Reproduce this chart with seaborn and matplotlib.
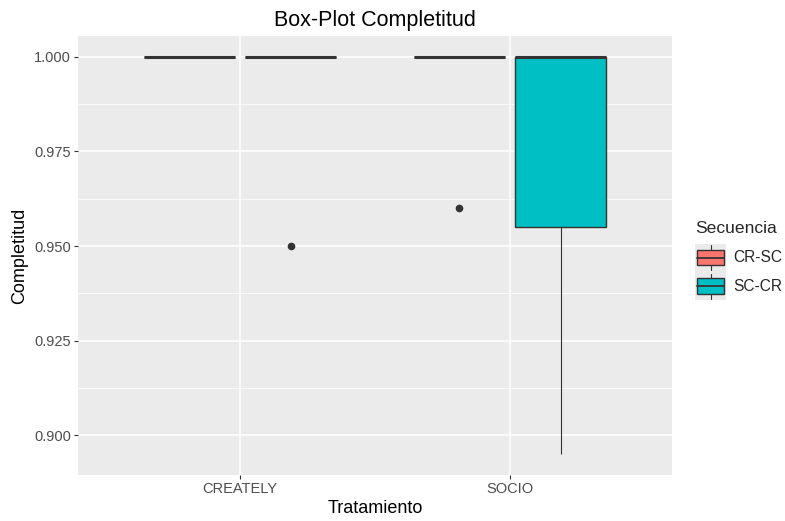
import matplotlib
matplotlib.use("Agg")
import matplotlib.pyplot as plt
import seaborn as sns
import pandas as pd
import numpy as np
from matplotlib.patches import Rectangle
from matplotlib.lines import Line2D
from matplotlib.legend_handler import HandlerBase
from matplotlib.ticker import MultipleLocator

# ---- data ----
tratamientos = ["CREATELY", "SOCIO"]
secuencias = ["CR-SC", "SC-CR"]
creately_crsc = [1.0, 1.0, 1.0, 1.0, 1.0]
creately_sccr = [1.0, 1.0, 0.95, 1.0, 1.0]
socio_crsc = [1.0, 1.0, 0.96, 1.0, 1.0]
socio_sccr = [0.895, 0.955, 1.0, 1.0, 1.0]
colores = ["#F8766D", "#00BFC4"]

rows = []
for trat, seq, vals in [("CREATELY", "CR-SC", creately_crsc),
                        ("CREATELY", "SC-CR", creately_sccr),
                        ("SOCIO", "CR-SC", socio_crsc),
                        ("SOCIO", "SC-CR", socio_sccr)]:
    for v in vals:
        rows.append({"Tratamiento": trat, "Secuencia": seq, "Completitud": v})
df = pd.DataFrame(rows)

sns.set_theme(style="darkgrid")
plt.rcParams["font.family"] = ["Liberation Sans", "DejaVu Sans"]

fig = plt.figure(figsize=(7.85, 5.21), dpi=100)
ax = fig.add_axes([78 / 785, 1 - 475 / 521, (672 - 78) / 785, (475 - 36) / 521])
ax.set_facecolor("#EBEBEB")

sns.boxplot(data=df, x="Tratamiento", y="Completitud", hue="Secuencia",
            order=tratamientos, hue_order=secuencias, palette=colores,
            width=0.75, gap=0.1, linewidth=1.0, linecolor="#333333",
            fliersize=4.5, showcaps=False, saturation=1,
            flierprops=dict(marker="o", markerfacecolor="#333333",
                            markeredgecolor="#333333"),
            medianprops=dict(color="#333333", linewidth=2.2),
            whiskerprops=dict(color="#333333", linewidth=0.8),
            ax=ax, legend=False)

ax.set_xlim(-0.6, 1.6)
ax.set_ylim(0.8895, 1.0055)
ax.yaxis.set_major_locator(MultipleLocator(0.025))
ax.yaxis.set_minor_locator(MultipleLocator(0.0125))
ax.set_yticklabels([f"{t:.3f}" for t in ax.get_yticks()])
ax.set_ylim(0.8895, 1.0055)
ax.grid(which="major", color="white", linewidth=1.1)
ax.grid(which="minor", axis="y", color="white", linewidth=0.55)
ax.set_axisbelow(True)
for s in ax.spines.values():
    s.set_visible(False)
ax.tick_params(axis="both", which="major", length=3, width=0.8, color="#333333",
               labelcolor="#4D4D4D", labelsize=10.5, pad=2, direction="out",
               bottom=True, left=True)
ax.tick_params(axis="y", which="minor", length=0)

ax.set_xlabel("Tratamiento", fontsize=13, color="black", labelpad=3)
ax.set_ylabel("Completitud", fontsize=13, color="black", labelpad=4)
ax.set_title("Box-Plot Completitud", fontsize=15.5, color="black", pad=7)


class BoxHandler(HandlerBase):
    def __init__(self, color):
        super().__init__()
        self.color = color

    def create_artists(self, legend, orig_handle, xdescent, ydescent, width,
                       height, fontsize, trans):
        x0, y0 = -xdescent, -ydescent
        bg = Rectangle((x0, y0), width, height,
                       facecolor="#EBEBEB", edgecolor="none", transform=trans)
        cx = x0 + width / 2
        vl = Line2D([cx, cx], [y0 + 1.0, y0 + height - 1.0],
                    color="#333333", linewidth=0.8, transform=trans)
        bx = Rectangle((x0 + 1.6, y0 + height * 0.22), width - 3.2, height * 0.56,
                       facecolor=self.color, edgecolor="#333333",
                       linewidth=1.0, transform=trans)
        md = Line2D([x0 + 1.6, x0 + width - 1.6],
                    [y0 + height / 2, y0 + height / 2],
                    color="#333333", linewidth=1.3, transform=trans)
        return [bg, vl, bx, md]


h1 = Rectangle((0, 0), 1, 1)
h2 = Rectangle((0, 0), 1, 1)
leg = fig.legend([h1, h2], secuencias, title="Secuencia",
                 handler_map={h1: BoxHandler(colores[0]), h2: BoxHandler(colores[1])},
                 loc="upper left", bbox_to_anchor=(692 / 785, 1 - 218 / 521),
                 frameon=False, fontsize=11.2, title_fontsize=12.6,
                 handlelength=2.0, handleheight=2.37, handletextpad=0.45,
                 labelspacing=0.05, borderpad=0.2, borderaxespad=0)
leg._legend_box.align = "left"
leg._legend_box.sep = 5.5

fig.savefig("out.png", dpi=100)
